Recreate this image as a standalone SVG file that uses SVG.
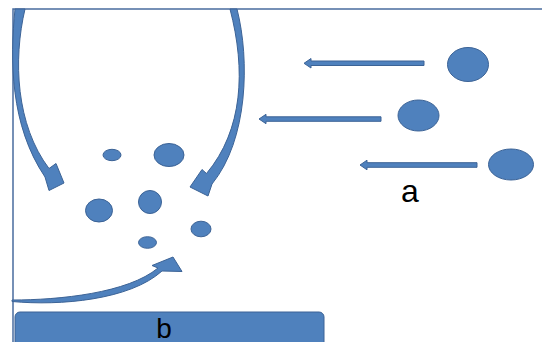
<svg xmlns="http://www.w3.org/2000/svg" width="542" height="342" viewBox="0 0 542 342">
<style>
.sh{fill:#4F81BD;stroke:#3C6396;stroke-width:1}
.ax{fill:none;stroke:#4A6C9E;stroke-width:1.5}
.lbl{font-family:"Liberation Sans",Arial,sans-serif;fill:#000}
</style>
<rect width="542" height="342" fill="#fff"/>
<g id="axes">
<path class="ax" d="M13,342 V9 H542"/>
</g>
<g id="connectors">
<path class="sh" d="M15,9 C10,60 10,125 45,177 L49,190.5 L64,183 L56,163.5 L49,168.5 C16,125 13,60 25,9 Z"/>
<path class="sh" d="M230,9 C246,70 243,130 206.5,173.5 L202,169.5 L190,187 L208,196 L212,184 C248,140 250,60 237,9 Z"/>
<path class="sh" d="M12,301.5 C60,306 130,300 162,271 L182,271.5 L173,257 L152,265.5 L158,268 C128,293 60,300 12,300 Z"/>
<polygon class="sh" points="424,61 311,61 311,58.5 304,63.3 311,68 311,65.5 424,65.5"/>
<polygon class="sh" points="381,116.8 266,116.8 266,114.3 259,119 266,123.7 266,121.3 381,121.3"/>
<polygon class="sh" points="477,162.7 367,162.7 367,160.2 360,165 367,169.8 367,167.3 477,167.3"/>
</g>
<g id="dot1"><ellipse class="sh" cx="112" cy="155" rx="9" ry="5.7"/></g>
<g id="dot2"><ellipse class="sh" cx="169" cy="155" rx="15" ry="11.5"/></g>
<g id="dot3"><ellipse class="sh" cx="99" cy="210.5" rx="13.5" ry="11.5"/></g>
<g id="dot4"><ellipse class="sh" cx="150" cy="202" rx="11.5" ry="11.5"/></g>
<g id="dot5"><ellipse class="sh" cx="201" cy="229" rx="10" ry="7.8"/></g>
<g id="dot6"><ellipse class="sh" cx="147.5" cy="242.5" rx="9" ry="5.8"/></g>
<g id="dot7"><ellipse class="sh" cx="468" cy="64.5" rx="20.5" ry="17"/></g>
<g id="dot8"><ellipse class="sh" cx="418.5" cy="115.5" rx="20.5" ry="15.5"/></g>
<g id="dot9"><ellipse class="sh" cx="511" cy="164.5" rx="22.5" ry="15.5"/></g>
<g id="label-a"><text class="lbl" x="410" y="202" font-size="32" text-anchor="middle">a</text></g>
<g id="box-b">
<rect class="sh" x="15" y="312" width="309" height="40" rx="5"/>
<text class="lbl" x="164" y="338" font-size="28" text-anchor="middle">b</text>
</g>
</svg>
